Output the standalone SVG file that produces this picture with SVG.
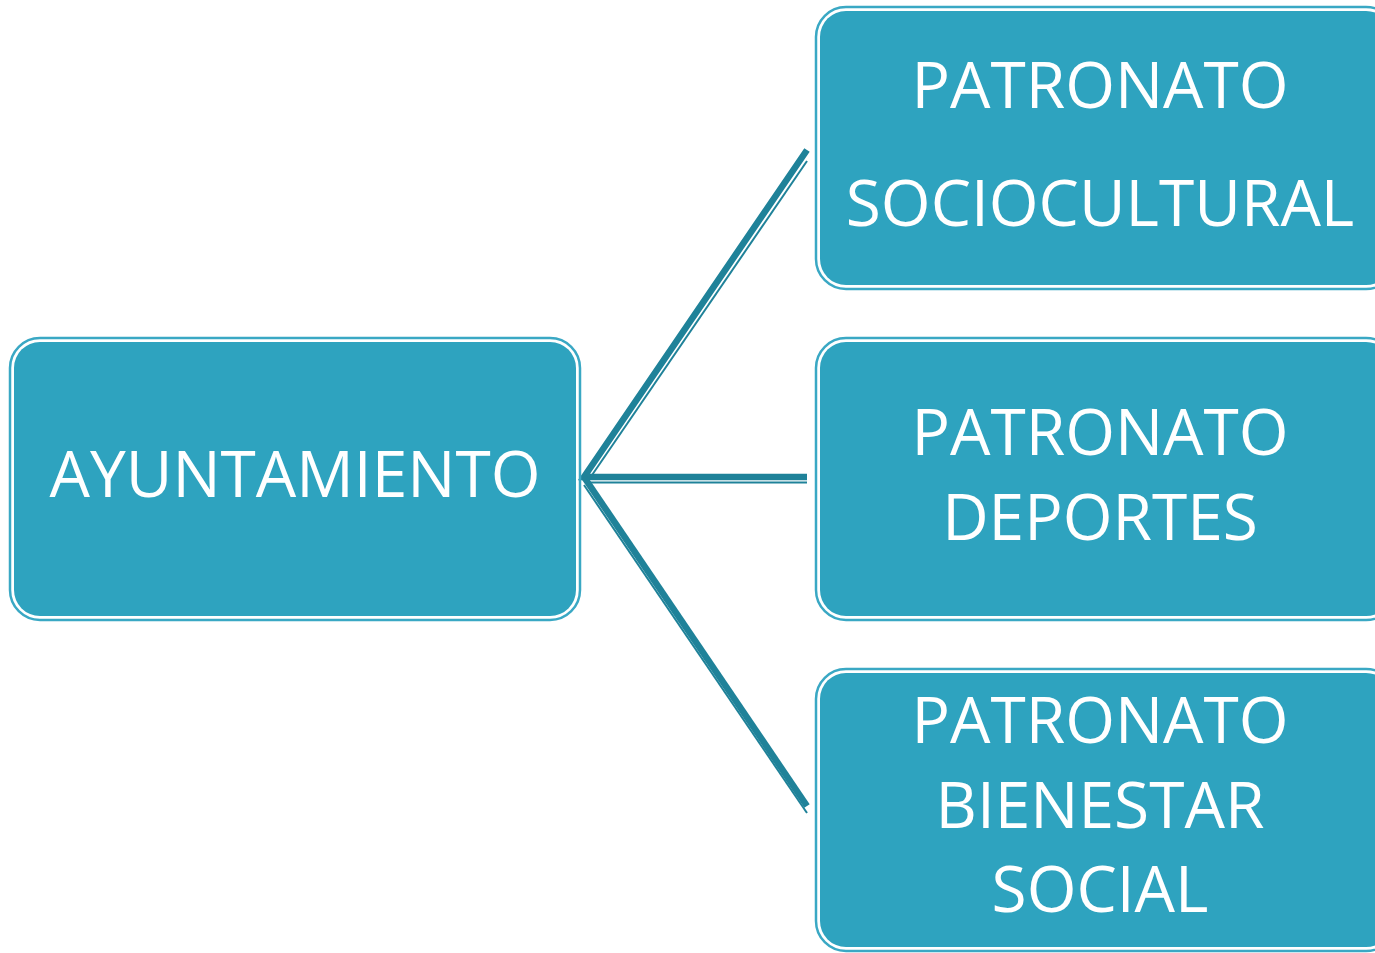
<svg xmlns="http://www.w3.org/2000/svg" width="1375" height="953" viewBox="0 0 1375 953">
<style>
.outer{fill:none;stroke:#3aa8c4;stroke-width:2.5}
.inner{fill:#2ea3bf}
.thick{fill:none;stroke:#1f8299;stroke-width:6.5;stroke-linejoin:miter}
.thin{fill:none;stroke:#1f8299;stroke-width:2}
text{font-family:"Open Sans","Noto Sans",sans-serif;font-size:64px;fill:#ffffff;text-anchor:middle}
</style>
<rect width="1375" height="953" fill="#ffffff"/>
<g id="connectors">
<polyline class="thick" points="807,150 584,477 807,477"/>
<polyline class="thick" points="584,477 807,806"/>
<line class="thin" x1="807" y1="161" x2="590" y2="478"/>
<line class="thin" x1="590" y1="482.5" x2="807" y2="482.5"/>
<line class="thin" x1="584" y1="485" x2="807" y2="813"/>
</g>
<g id="ayuntamiento">
<rect class="outer" x="10" y="338" width="570" height="282" rx="30"/>
<rect class="inner" x="14" y="342" width="562" height="274" rx="26"/>
<text x="295" y="497">AYUNTAMIENTO</text>
</g>
<g id="sociocultural">
<rect class="outer" x="816" y="7" width="580" height="282" rx="30"/>
<rect class="inner" x="820" y="11" width="572" height="274" rx="26"/>
<text x="1100" y="108">PATRONATO</text>
<text x="1100" y="226">SOCIOCULTURAL</text>
</g>
<g id="deportes">
<rect class="outer" x="816" y="338" width="580" height="282" rx="30"/>
<rect class="inner" x="820" y="342" width="572" height="274" rx="26"/>
<text x="1100" y="455">PATRONATO</text>
<text x="1100" y="540">DEPORTES</text>
</g>
<g id="bienestar">
<rect class="outer" x="816" y="669" width="580" height="282" rx="30"/>
<rect class="inner" x="820" y="673" width="572" height="274" rx="26"/>
<text x="1100" y="743">PATRONATO</text>
<text x="1100" y="828">BIENESTAR</text>
<text x="1100" y="912">SOCIAL</text>
</g>
</svg>
